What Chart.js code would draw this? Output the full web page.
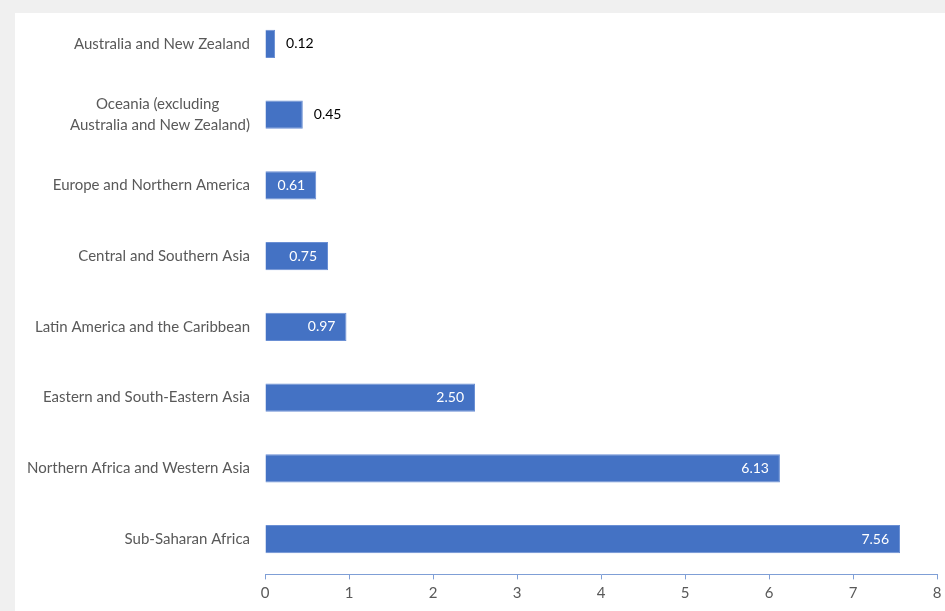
<!DOCTYPE html>
<html lang="en">
<head>
  <meta charset="UTF-8">
  <title>Regions</title>
  <script src="https://cdn.jsdelivr.net/npm/chart.js"></script>
  <style>
    html, body { margin: 0; padding: 0; background: #f0f0f0; }
    #wrap { position: absolute; left: 0; top: 0; width: 945px; height: 611px; }
  </style>
</head>
<body>

<div id="wrap"><canvas id="regionChart"></canvas></div>

<script>
// regions, top to bottom
const regions = [
  'Australia and New Zealand',
  ['Oceania (excluding        ', 'Australia and New Zealand)'],
  'Europe and Northern America',
  'Central and Southern Asia',
  'Latin America and the Caribbean',
  'Eastern and South-Eastern Asia',
  'Northern Africa and Western Asia',
  'Sub-Saharan Africa'
];
const values = [0.12, 0.45, 0.61, 0.75, 0.97, 2.50, 6.13, 7.56];
const xTicks = [0, 1, 2, 3, 4, 5, 6, 7, 8];

const FONT = 'Lato, "Open Sans", sans-serif';

// gray page with the white chart panel
const panel = {
  id: 'panel',
  beforeDraw(chart) {
    const ctx = chart.ctx;
    ctx.save();
    ctx.fillStyle = '#f0f0f0';
    ctx.fillRect(0, 0, chart.width, chart.height);
    ctx.fillStyle = '#ffffff';
    ctx.fillRect(15, 13, chart.width - 15, chart.height - 13);
    ctx.restore();
  }
};

// value labels: white inside the bar end, dark outside for short bars
const valueLabels = {
  id: 'valueLabels',
  afterDatasetsDraw(chart) {
    const ctx = chart.ctx;
    const meta = chart.getDatasetMeta(0);
    ctx.save();
    ctx.font = '14px ' + FONT;
    ctx.textBaseline = 'middle';
    meta.data.forEach((bar, i) => {
      const txt = values[i].toFixed(2);
      const w = ctx.measureText(txt).width;
      const len = bar.x - bar.base;
      if (len > w + 16) {
        ctx.fillStyle = '#ffffff';
        ctx.textAlign = 'right';
        ctx.fillText(txt, bar.x - 11, bar.y);
      } else {
        ctx.fillStyle = '#000000';
        ctx.textAlign = 'left';
        ctx.fillText(txt, bar.x + 11, bar.y);
      }
    });
    ctx.restore();
  }
};

// drop the automatic label padding so the plot box is set by layout.padding
function noScalePadding(scale) {
  scale.paddingTop = 0;
  scale.paddingBottom = 0;
  scale.paddingLeft = 0;
  scale.paddingRight = 0;
}

new Chart(document.getElementById('regionChart'), {
  type: 'bar',
  data: {
    labels: regions,
    datasets: [{
      data: values,
      backgroundColor: '#4472c4',
      borderColor: '#6a8fd4',
      borderWidth: 1,
      categoryPercentage: 1,
      barPercentage: 0.4
    }]
  },
  options: {
    indexAxis: 'y',
    responsive: true,
    maintainAspectRatio: false,
    animation: false,
    layout: { padding: { top: 8.6, right: 8, left: 0, bottom: 0 } },
    plugins: {
      legend: { display: false },
      tooltip: { enabled: false }
    },
    scales: {
      x: {
        min: 0,
        max: 8,
        afterBuildTicks(scale) {
          scale.ticks = xTicks.map(v => ({ value: v }));
        },
        afterFit(scale) {
          scale.height = 36.6;
          noScalePadding(scale);
        },
        border: { display: true, color: '#7f9fd6', width: 1 },
        grid: {
          drawOnChartArea: false,
          drawTicks: true,
          tickLength: 5,
          color: '#7f9fd6'
        },
        ticks: {
          color: '#595959',
          padding: 5,
          maxRotation: 0,
          font: { family: FONT, size: 15 }
        }
      },
      y: {
        afterFit(scale) {
          scale.width = 265;
          noScalePadding(scale);
        },
        border: { display: false },
        grid: { display: false, drawTicks: false },
        ticks: {
          color: '#595959',
          padding: 15,
          crossAlign: 'near',
          font: { family: FONT, size: 15, lineHeight: 1.4 }
        }
      }
    }
  },
  plugins: [panel, valueLabels]
});
</script>
</body>
</html>
